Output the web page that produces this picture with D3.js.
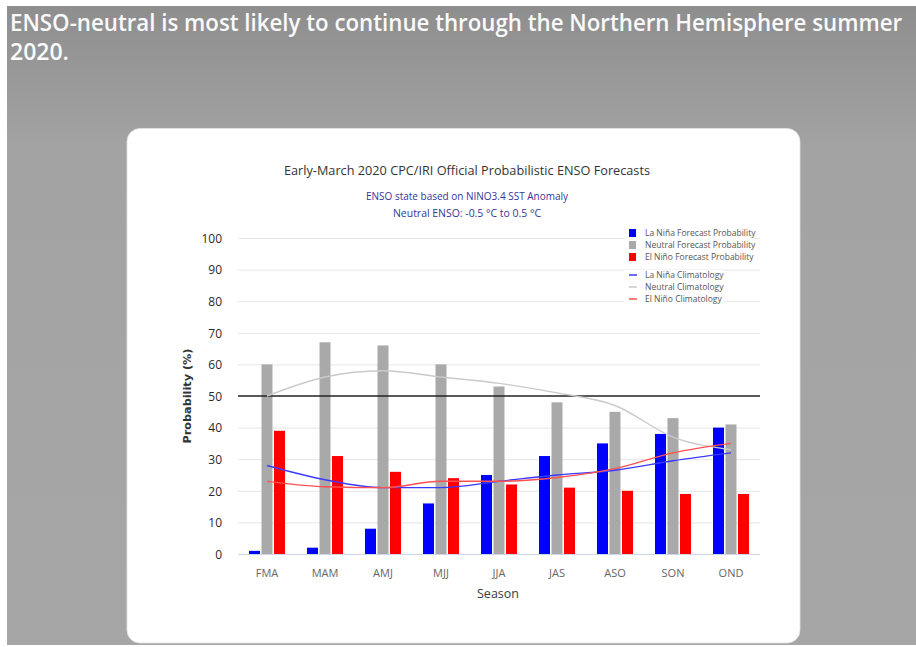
<!DOCTYPE html>
<html>
<head>
<meta charset="utf-8">
<script src="https://cdn.jsdelivr.net/npm/d3@7/dist/d3.min.js"></script>
<style>
  html, body { margin: 0; padding: 0; background: #fff; }
  svg { display: block; }
</style>
</head>
<body>
<svg id="chart" width="916" height="647"></svg>
<script>
// ---------- data ----------
const seasons = ["FMA", "MAM", "AMJ", "MJJ", "JJA", "JAS", "ASO", "SON", "OND"];
const laNina  = [1, 2, 8, 16, 25, 31, 35, 38, 40];
const neutral = [60, 67, 66, 60, 53, 48, 45, 43, 41];
const elNino  = [39, 31, 26, 24, 22, 21, 20, 19, 19];
const laNinaClim  = [28, 23.5, 21, 21, 23, 25, 26.5, 29.5, 32];
const neutralClim = [50, 56, 58, 56, 54, 51, 47, 37, 33];
const elNinoClim  = [23, 21.3, 21, 23, 23, 24.2, 27, 32, 35];
const yTicks = [0, 10, 20, 30, 40, 50, 60, 70, 80, 90, 100];
const headline = ["ENSO-neutral is most likely to continue through the Northern Hemisphere summer", "2020."];
const chartTitle = "Early-March 2020 CPC/IRI Official Probabilistic ENSO Forecasts";
const subtitles = ["ENSO state based on NINO3.4 SST Anomaly", "Neutral ENSO: -0.5 °C to 0.5 °C"];
const barSeries = [
  { name: "La Niña Forecast Probability", values: laNina, color: "#0000ff" },
  { name: "Neutral Forecast Probability", values: neutral, color: "#a9a9a9" },
  { name: "El Niño Forecast Probability", values: elNino, color: "#ff0000" }
];
const lineSeries = [
  { name: "La Niña Climatology", values: laNinaClim, color: "#3a3aff" },
  { name: "Neutral Climatology", values: neutralClim, color: "#cacaca" },
  { name: "El Niño Climatology", values: elNinoClim, color: "#ff5050" }
];

// ---------- layout ----------
const svg = d3.select("#chart");
const defs = svg.append("defs");
const grad = defs.append("linearGradient").attr("id", "bg").attr("x1", 0).attr("y1", 0).attr("x2", 0).attr("y2", 1);
grad.append("stop").attr("offset", "0%").attr("stop-color", "#8e8e8e");
grad.append("stop").attr("offset", "22%").attr("stop-color", "#a3a3a3");
grad.append("stop").attr("offset", "100%").attr("stop-color", "#a6a6a6");

svg.append("rect").attr("x", 7).attr("y", 6).attr("width", 909).attr("height", 639).attr("fill", "url(#bg)");

// headline: natural glyphs, compressed horizontally by a transform so the box stays inside
function fitText(str, x0, y0, targetW) {
  const t = svg.append("text").attr("x", 0).attr("y", 0).attr("fill", "#fafafa")
    .attr("font-family", "Open Sans, DejaVu Sans").attr("font-weight", 600)
    .attr("font-size", 23).text(str);
  const w = t.node().getComputedTextLength();
  const s = Math.min(1, targetW / w);
  t.attr("transform", `translate(${x0},${y0}) scale(${s},1)`);
}
fitText(headline[0], 10, 31, 893);
fitText(headline[1], 10, 60, 60);

// card
svg.append("rect").attr("x", 127).attr("y", 128.5).attr("width", 673).attr("height", 514.5)
  .attr("rx", 13).attr("ry", 13).attr("fill", "#ffffff").attr("stroke", "#e2e2e2").attr("stroke-width", 0.8);

const plot = { left: 238, right: 760, top: 238, bottom: 554 };

const x = d3.scaleBand().domain(seasons).range([plot.left, plot.right]).padding(0);
const xInner = d3.scaleBand().domain(barSeries.map(d => d.name))
  .range([x.bandwidth() / 2 - 18, x.bandwidth() / 2 + 18]).paddingInner(0.12).paddingOuter(0);
const y = d3.scaleLinear().domain([0, 100]).range([plot.bottom, plot.top]);

// titles
svg.append("text").attr("x", 467).attr("y", 175).attr("text-anchor", "middle")
  .attr("font-family", "Open Sans, DejaVu Sans").attr("font-size", 12.5).attr("fill", "#333333")
  .attr("textLength", 366).attr("lengthAdjust", "spacingAndGlyphs").text(chartTitle);
svg.append("text").attr("x", 467).attr("y", 200).attr("text-anchor", "middle")
  .attr("font-family", "Open Sans, DejaVu Sans").attr("font-size", 10).attr("fill", "#35359a")
  .attr("textLength", 202).attr("lengthAdjust", "spacingAndGlyphs").text(subtitles[0]);
svg.append("text").attr("x", 467).attr("y", 217).attr("text-anchor", "middle")
  .attr("font-family", "Open Sans, DejaVu Sans").attr("font-size", 10).attr("fill", "#35359a")
  .attr("textLength", 148).attr("lengthAdjust", "spacingAndGlyphs").text(subtitles[1]);

// gridlines
svg.append("g").selectAll("line").data(yTicks.filter(t => t !== 0 && t !== 50)).join("line")
  .attr("x1", plot.left).attr("x2", plot.right)
  .attr("y1", d => y(d) + 0.5).attr("y2", d => y(d) + 0.5)
  .attr("stroke", "#e6e6e6").attr("stroke-width", 1);

// y axis (labels only)
const yAxis = d3.axisLeft(y).tickValues(yTicks).tickSize(0).tickPadding(0);
const gy = svg.append("g").attr("transform", `translate(222,0)`).call(yAxis);
gy.select(".domain").remove();
gy.selectAll("text").attr("font-family", "Open Sans, DejaVu Sans").attr("font-size", 12)
  .attr("fill", "#2a2a2a").attr("dy", "0.36em");

// x axis
const xAxis = d3.axisBottom(x).tickSize(0).tickPadding(0);
const gx = svg.append("g").attr("transform", `translate(0,${plot.bottom})`).call(xAxis);
gx.select(".domain").remove();
gx.selectAll("text").attr("font-family", "Open Sans, DejaVu Sans").attr("font-size", 11)
  .attr("fill", "#666").attr("dy", 0).attr("y", 23);

// baseline
svg.append("line").attr("x1", plot.left).attr("x2", plot.right)
  .attr("y1", y(0) + 0.5).attr("y2", y(0) + 0.5).attr("stroke", "#ccd6eb").attr("stroke-width", 1);

// axis titles
svg.append("text").attr("x", 498).attr("y", 598).attr("text-anchor", "middle")
  .attr("font-family", "Open Sans, DejaVu Sans").attr("font-size", 12.5).attr("fill", "#333c44").text("Season");
svg.append("text").attr("transform", `translate(191,${(plot.top + plot.bottom) / 2}) rotate(-90)`)
  .attr("text-anchor", "middle").attr("font-family", "DejaVu Sans").attr("font-weight", "bold")
  .attr("font-size", 10.5).attr("fill", "#333").attr("textLength", 95).attr("lengthAdjust", "spacingAndGlyphs")
  .text("Probability (%)");

// bars
const groups = svg.append("g").selectAll("g").data(barSeries).join("g").attr("fill", d => d.color);
groups.selectAll("rect").data(s => s.values.map((v, i) => ({ s: s.name, v, season: seasons[i] }))).join("rect")
  .attr("x", d => x(d.season) + xInner(d.s))
  .attr("width", xInner.bandwidth())
  .attr("y", d => y(d.v))
  .attr("height", d => y(0) - y(d.v));

// 50% line
svg.append("line").attr("x1", plot.left).attr("x2", plot.right)
  .attr("y1", y(50)).attr("y2", y(50)).attr("stroke", "#222").attr("stroke-width", 1.3);

// climatology lines
const line = d3.line().x((d, i) => x(seasons[i]) + x.bandwidth() / 2).y(d => y(d)).curve(d3.curveMonotoneX);
svg.append("g").selectAll("path").data(lineSeries).join("path")
  .attr("d", d => line(d.values)).attr("fill", "none")
  .attr("stroke", d => d.color).attr("stroke-width", 1.4);

// legends
const legX = 629;
svg.append("rect").attr("x", 624).attr("y", 226).attr("width", 130).attr("height", 38).attr("fill", "#fff");
svg.append("rect").attr("x", 624).attr("y", 270).attr("width", 100).attr("height", 36).attr("fill", "#fff");

const leg1 = svg.append("g").selectAll("g").data(barSeries).join("g")
  .attr("transform", (d, i) => `translate(${legX},${233 + i * 12})`);
leg1.append("rect").attr("x", 0).attr("y", -4).attr("width", 7).attr("height", 8).attr("fill", d => d.color);
leg1.append("text").attr("x", 16).attr("y", 3).attr("font-family", "Open Sans, DejaVu Sans")
  .attr("font-size", 8.5).attr("fill", "#555").text(d => d.name);

const leg2 = svg.append("g").selectAll("g").data(lineSeries).join("g")
  .attr("transform", (d, i) => `translate(${legX},${275 + i * 12})`);
leg2.append("line").attr("x1", 0).attr("x2", 8).attr("y1", 0).attr("y2", 0)
  .attr("stroke", d => d.color).attr("stroke-width", 1.5);
leg2.append("text").attr("x", 16).attr("y", 3).attr("font-family", "Open Sans, DejaVu Sans")
  .attr("font-size", 8.5).attr("fill", "#555").text(d => d.name);
</script>
</body>
</html>
